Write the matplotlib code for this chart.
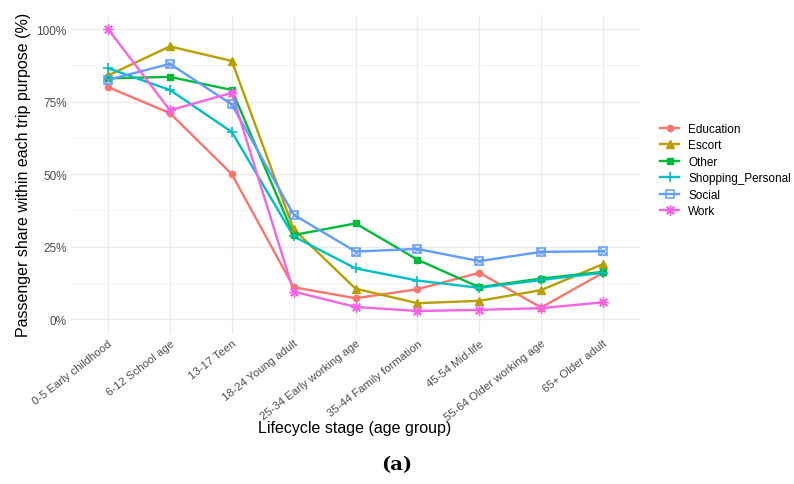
import matplotlib
matplotlib.use("Agg")
import matplotlib.pyplot as plt
from matplotlib.ticker import FixedLocator

plt.rcParams['font.family'] = ['Liberation Sans', 'DejaVu Sans']

stages = ["0-5 Early childhood", "6-12 School age", "13-17 Teen", "18-24 Young adult",
          "25-34 Early working age", "35-44 Family formation", "45-54 Mid-life",
          "55-64 Older working age", "65+ Older adult"]

education = [80, 71, 50, 11, 7.2, 10.3, 16, 4, 16]
escort = [84, 94, 89, 31, 10.5, 5.5, 6.3, 10, 19]
other = [83, 83.5, 79, 29, 33, 20.5, 11, 14, 16.3]
shopping = [86.5, 79, 64.5, 28.5, 17.5, 13.3, 10.8, 13.5, 16]
social = [82.5, 88, 74, 36, 23.3, 24.2, 20, 23.2, 23.4]
work = [100, 72, 78, 9.5, 4.2, 2.8, 3.2, 3.8, 5.8]

series = [
    ("Education", education, "#F8766D"),
    ("Escort", escort, "#B79F00"),
    ("Other", other, "#00BA38"),
    ("Shopping_Personal", shopping, "#00BFC4"),
    ("Social", social, "#619CFF"),
    ("Work", work, "#F564E3"),
]

fig = plt.figure(figsize=(7.94, 4.85), dpi=100)
ax = fig.add_axes([0.0893, 0.310, 0.717, 0.658])

x = list(range(1, len(stages) + 1))
handles = []
for name, vals, col in series:
    ax.plot(x, vals, color=col, lw=1.7, zorder=3)
    if name == "Education":
        ax.plot(x, vals, ls="none", marker="o", ms=4.5, color=col, zorder=4)
        h = ax.plot([], [], color=col, lw=1.7, marker="o", ms=4.5)[0]
    elif name == "Escort":
        ax.plot(x, vals, ls="none", marker="^", ms=5.5, color=col, zorder=4)
        h = ax.plot([], [], color=col, lw=1.7, marker="^", ms=5.5)[0]
    elif name == "Other":
        ax.plot(x, vals, ls="none", marker="s", ms=4.5, color=col, zorder=4)
        h = ax.plot([], [], color=col, lw=1.7, marker="s", ms=4.5)[0]
    elif name == "Shopping_Personal":
        ax.plot(x, vals, ls="none", marker="+", ms=7, mew=1.2, color=col, zorder=4)
        h = ax.plot([], [], color=col, lw=1.7, marker="+", ms=7, mew=1.2)[0]
    elif name == "Social":
        ax.plot(x, vals, ls="none", marker="s", ms=5.5, mfc="none", mew=1.1, color=col, zorder=4)
        ax.plot(x, vals, ls="none", marker="x", ms=5.5, mew=0.9, color=col, zorder=4)
        h = ax.plot([], [], color=col, lw=1.7, marker="s", ms=5.5, mfc="none", mew=1.1)[0]
    else:
        ax.plot(x, vals, ls="none", marker=(8, 2, 0), ms=7.5, mew=1.0, color=col, zorder=4)
        h = ax.plot([], [], color=col, lw=1.7, marker=(8, 2, 0), ms=7.5, mew=1.0)[0]
    h.set_label(name)
    handles.append(h)

ax.set_xlim(0.4, len(stages) + 0.6)
ax.set_ylim(-5, 105)
ax.set_xticks(x)
ax.set_xticklabels(stages, rotation=38, ha="right", rotation_mode="anchor",
                   fontsize=8.2, color="#4D4D4D")
ax.set_yticks([0, 25, 50, 75, 100])
ax.set_yticklabels(["0%", "25%", "50%", "75%", "100%"], fontsize=8.5, color="#4D4D4D")
ax.yaxis.set_minor_locator(FixedLocator([12.5, 37.5, 62.5, 87.5]))
ax.tick_params(axis="both", which="both", length=0, pad=3)
ax.grid(True, which="major", color="#EBEBEB", lw=1.0, zorder=0)
ax.grid(True, which="minor", axis="y", color="#F3F3F3", lw=0.6, zorder=0)
for s in ax.spines.values():
    s.set_visible(False)

ax.set_xlabel("Lifecycle stage (age group)", fontsize=11.5, va="center")
ax.xaxis.set_label_coords(0.499, -0.293)
ax.set_ylabel("Passenger share within each trip purpose (%)", fontsize=11.5, labelpad=4)

fig.legend(handles=handles, loc="center left", bbox_to_anchor=(0.818, 0.647),
           frameon=False, fontsize=8.5, handlelength=1.6, labelspacing=0.38,
           handletextpad=0.8)

fig.text(0.5, 0.042, "(a)", ha="center", va="center", fontsize=14,
         family="DejaVu Serif", fontweight="bold")

fig.savefig("out.png", dpi=100)
